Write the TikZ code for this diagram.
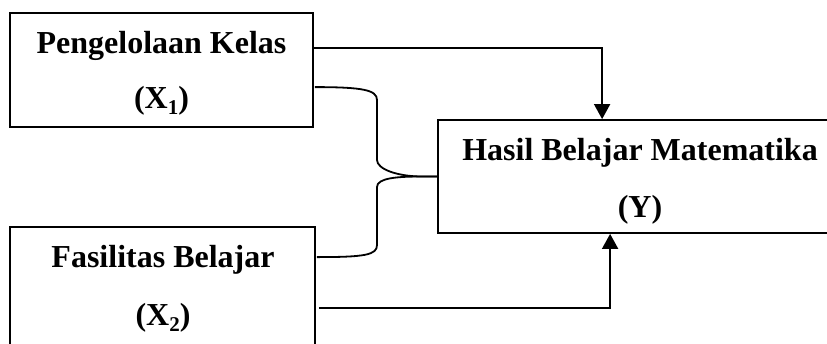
\documentclass[tikz,border=0pt]{standalone}
\usepackage{fontspec}
\setmainfont{Liberation Serif}
\usetikzlibrary{arrows.meta,calc}
\tikzset{
  box/.style={draw, line width=1.8pt, rectangle, inner sep=0pt},
  lbl/.style={anchor=base, inner sep=0pt, font=\fontsize{32}{36}\bfseries\selectfont},
  conn/.style={line width=1.8pt},
  arr/.style={line width=1.8pt, -{Triangle[width=16pt,length=15pt]}}
}
\newcommand{\subsc}[1]{\raisebox{-0.2em}{\fontsize{21}{21}\selectfont #1}}
\begin{document}
\begin{tikzpicture}[x=1pt,y=-1pt]
\useasboundingbox (0,0) rectangle (827,343);
\node[box, minimum width=303pt, minimum height=114pt] (b1) at (161.5,70) {};
\node[box, minimum width=305pt, minimum height=130pt] (b2) at (162.5,292) {};
\node[box, minimum width=402pt, minimum height=113pt] (by) at (639,176.5) {};
\node[lbl] (t1a) at (161.5,53) {Pengelolaan Kelas};
\node[lbl] (t1b) at (161.5,108) {(X\subsc{1})};
\node[lbl] (t2a) at (163,267) {Fasilitas Belajar};
\node[lbl] (t2b) at (163,325) {(X\subsc{2})};
\node[lbl] (tya) at (640,160) {Hasil Belajar Matematika};
\node[lbl] (tyb) at (640,217) {(Y)};
% direct arrows
\draw[arr] ($(b1.north east)+(0,36)$) -| ($(by.north west)+(165,0)$);
\draw[arr] ($(b2.north east)+(3,82)$) -| ($(by.south west)+(173,0)$);
% brace-like joint
\coordinate (j) at (by.west);
\draw[conn] ($(b1.north east)+(1,75)$) .. controls +(48,0) and +(0,-10) .. (377,100)
  -- (377,160) .. controls +(0,9) and +(-25,0) .. ($(j)+(-15,0)$) -- (j);
\draw[conn] (j) -- ($(j)+(-15,0)$) .. controls +(-25,0) and +(0,-9) .. (377,187)
  -- (377,245) .. controls +(0,10) and +(48,0) .. ($(b2.north east)+(1,31)$);
\end{tikzpicture}
\end{document}
